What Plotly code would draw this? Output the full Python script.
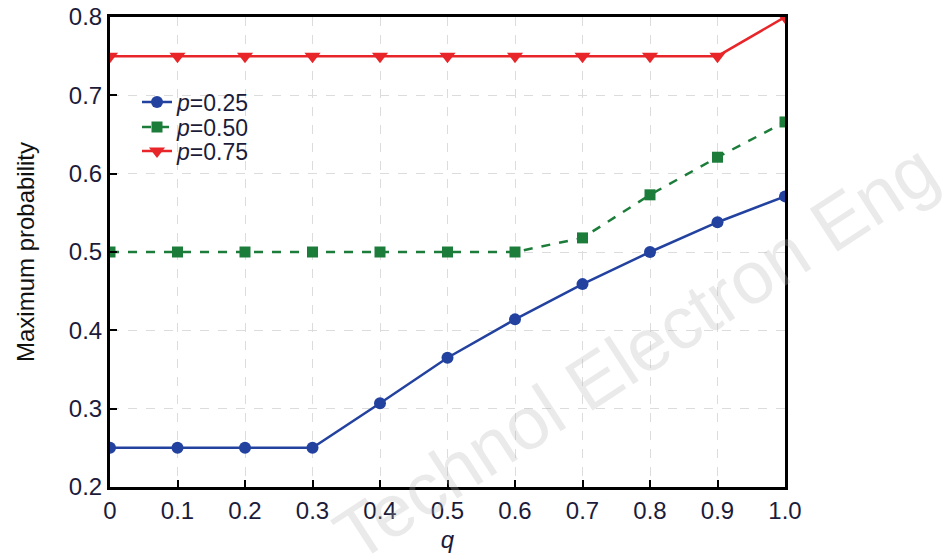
import plotly.graph_objects as go

q = [0, 0.1, 0.2, 0.3, 0.4, 0.5, 0.6, 0.7, 0.8, 0.9, 1.0]
p025 = [0.25, 0.25, 0.25, 0.25, 0.307, 0.365, 0.414, 0.459, 0.50, 0.538, 0.571]
p050 = [0.50, 0.50, 0.50, 0.50, 0.50, 0.50, 0.50, 0.518, 0.573, 0.621, 0.666]
p075 = [0.75, 0.75, 0.75, 0.75, 0.75, 0.75, 0.75, 0.75, 0.75, 0.75, 0.80]

x_ticks = [0, 0.1, 0.2, 0.3, 0.4, 0.5, 0.6, 0.7, 0.8, 0.9, 1.0]
x_ticktext = ["0", "0.1", "0.2", "0.3", "0.4", "0.5", "0.6", "0.7", "0.8", "0.9", "1.0"]
y_ticks = [0.2, 0.3, 0.4, 0.5, 0.6, 0.7, 0.8]
y_ticktext = ["0.2", "0.3", "0.4", "0.5", "0.6", "0.7", "0.8"]

BLUE = "#2342a0"
GREEN = "#1c7d3a"
RED = "#e8262a"
TXT = "#1c1c3a"
FONT = "Liberation Sans, Arial"

fig = go.Figure()
fig.add_trace(go.Scatter(x=q, y=p025, mode="lines+markers", name="<i>p</i>=0.25",
                         line=dict(color=BLUE, width=2.5),
                         marker=dict(symbol="circle", size=12, color=BLUE),
                         legend="legend"))
fig.add_trace(go.Scatter(x=q, y=p050, mode="lines+markers", name="<i>p</i>=0.50",
                         line=dict(color=GREEN, width=2.5, dash="dash"),
                         marker=dict(symbol="square", size=11, color=GREEN),
                         legend="legend2"))
fig.add_trace(go.Scatter(x=q, y=p075, mode="lines+markers", name="<i>p</i>=0.75",
                         line=dict(color=RED, width=2.5),
                         marker=dict(symbol="triangle-down", size=14, color=RED),
                         legend="legend3"))

axis_common = dict(showline=True, linecolor="black", linewidth=3, mirror=True,
                   ticks="inside", ticklen=7, tickwidth=2, tickcolor="black",
                   showgrid=True, gridcolor="#dcdcdc", griddash="dash", gridwidth=1,
                   zeroline=False, automargin=False,
                   tickfont=dict(family=FONT, size=24, color=TXT))

fig.update_xaxes(range=[0, 1.0], tickvals=x_ticks, ticktext=x_ticktext,
                 title=dict(text="<i>q</i>", font=dict(family=FONT, size=24, color=TXT),
                            standoff=9),
                 **axis_common)
fig.update_yaxes(range=[0.2, 0.8], tickvals=y_ticks, ticktext=y_ticktext,
                 title=dict(text="Maximum probability", font=dict(family=FONT, size=24, color="#111111"),
                            standoff=28),
                 **axis_common)

fig.add_annotation(text="Technol Electron Eng", xref="paper", yref="paper",
                   x=0.778, y=0.287, xanchor="center", yanchor="middle",
                   showarrow=False, textangle=-33,
                   font=dict(family=FONT, size=74, color="rgba(180,180,180,0.28)"))

leg_common = dict(x=0.04, xanchor="left", yanchor="middle",
                  bgcolor="rgba(0,0,0,0)", borderwidth=0,
                  font=dict(family=FONT, size=23, color=TXT), itemwidth=30)

fig.update_layout(
    width=946, height=559,
    margin=dict(l=110, r=161, t=17, b=72),
    paper_bgcolor="white", plot_bgcolor="white",
    showlegend=True,
    legend=dict(y=0.819, **leg_common),
    legend2=dict(y=0.766, **leg_common),
    legend3=dict(y=0.715, **leg_common),
)

fig.write_html("out.html")
